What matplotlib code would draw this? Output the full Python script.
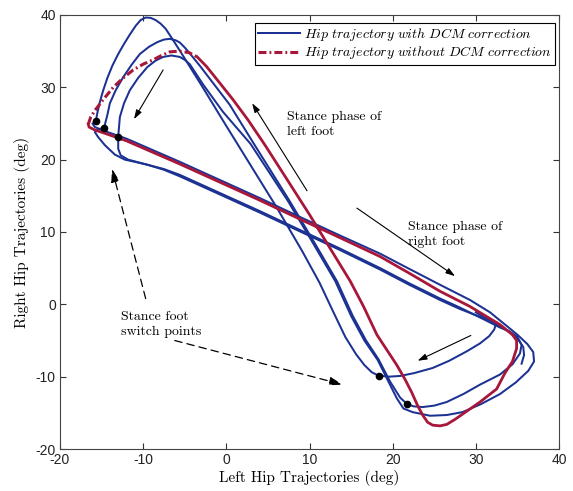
import matplotlib
matplotlib.use("Agg")
import matplotlib.pyplot as plt

plt.rcParams['mathtext.fontset'] = 'cm'
plt.rcParams['axes.unicode_minus'] = False

# ---------------- data (deg) ----------------
# Blue: hip trajectory with DCM correction (three cycles + initial tail)
blue_tall_x = [-15.7, -15.5, -15.2, -14.8, -14.3, -13.7, -13.0, -12.3, -11.6, -10.9, -10.3, -9.7,
               -9.1, -8.5, -7.9, -7.3, -6.5, -5.5, -3.0, -0.4, 3.2, 6.0, 9.1, 11.2, 12.8, 14.3,
               15.6, 16.6, 17.5, 18.3,
               19.5, 20.9, 22.6, 24.8, 26.8, 28.9, 30.5, 31.6, 32.2, 32.4, 32.0,
               30.0, 28.0, 25.7, 22.0, 18.5, 13.5, 9.0, 4.0, -0.8, -5.6, -7.5, -9.5, -11.0, -12.2,
               -13.4, -14.6, -15.4, -15.8, -15.4, -14.7]
blue_tall_y = [25.3, 26.5, 28.0, 29.6, 31.3, 33.0, 34.6, 36.0, 37.3, 38.5, 39.3, 39.65,
               39.6, 39.3, 38.8, 38.1, 36.7, 34.9, 30.3, 25.4, 18.7, 13.5, 7.4, 3.0, -0.9, -4.5,
               -6.9, -8.4, -9.4, -9.85,
               -10.0, -9.9, -9.5, -8.8, -7.8, -6.5, -5.4, -4.4, -3.5, -2.8, -2.3,
               -1.5, -0.6, 0.6, 2.7, 4.8, 7.6, 10.0, 12.7, 15.2, 17.7, 18.6, 19.3, 19.7, 20.0,
               20.7, 22.0, 23.1, 23.8, 24.2, 24.4]

blue_mid_x = [-14.7, -14.3, -14.0, -13.3, -12.4, -11.4, -10.4, -9.3, -8.3, -7.5, -6.8, -6.1,
              -5.6, -5.0, -4.4, -3.2, 0.4, 3.2, 7.6, 10.5, 13.3, 15.2, 16.8, 18.3, 19.7, 20.9, 21.7,
              22.5, 23.6, 25.0, 26.5, 28.5, 30.5, 32.9, 34.4, 35.3, 35.5, 35.0, 34.0, 32.9,
              31.0, 28.0, 25.7, 22.0, 18.5, 13.5, 9.0, 4.0, -0.8, -5.6, -7.5, -9.5, -11.8,
              -12.7, -13.0, -13.0]
blue_mid_y = [24.4, 26.2, 27.8, 29.6, 31.4, 33.1, 34.6, 35.6, 36.25, 36.6, 36.7, 36.5,
              36.2, 35.5, 34.7, 33.0, 27.6, 22.4, 14.3, 8.7, 3.2, -1.6, -5.0, -7.6, -10.7, -12.9, -13.75,
              -14.1, -14.2, -14.0, -13.5, -12.4, -11.1, -9.7, -8.3, -6.8, -5.6, -4.5, -3.7, -3.2,
              -2.1, -0.4, 0.8, 2.9, 5.0, 7.8, 10.2, 12.9, 15.4, 17.9, 18.7, 19.3, 20.0,
              20.6, 21.5, 23.2]

blue_inner_x = [-13.0, -12.8, -12.3, -11.6, -10.6, -9.5, -8.5, -7.6, -6.6, -5.6, -5.0, -4.4, -2.8,
                -0.4, 2.9, 7.4, 10.3, 13.1, 15.0, 16.6, 18.2, 19.5, 20.5, 21.3, 22.4, 24.5,
                26.5, 28.4, 30.6, 32.9, 34.8, 36.3, 37.0, 36.9, 36.2, 35.0, 33.3, 31.7, 29.3,
                25.7, 22.0, 18.5, 13.5, 9.0, 4.0, -0.8, -5.6, -9.0, -12.0, -14.5, -15.8,
                -16.1, -15.7]
blue_inner_y = [23.2, 25.9, 27.8, 29.6, 31.3, 32.8, 33.7, 34.2, 34.4, 34.2, 33.8, 33.2, 30.4,
                26.6, 22.2, 14.3, 8.7, 3.2, -1.6, -5.0, -7.7, -10.7, -13.0, -14.4, -14.9, -15.4,
                -15.3, -14.9, -13.8, -12.4, -10.8, -9.2, -7.9, -6.6, -5.5, -4.2, -2.6, -1.1, 0.6,
                2.7, 4.9, 7.0, 9.6, 12.0, 14.7, 17.2, 19.7, 21.4, 22.9, 23.9, 24.5,
                25.0, 25.3]

blue_tail_x = [35.5, 35.8, 35.7, 35.1, 34.0, 32.5, 30.0]
blue_tail_y = [-8.2, -7.0, -5.9, -4.9, -3.8, -2.8, -1.1]

# Red: hip trajectory without DCM correction
red_arc_x = [-16.6, -16.3, -15.8, -14.8, -13.6, -12.4, -11.2, -10.0, -8.8, -7.8, -6.8, -5.6,
             -4.5, -3.5]
red_arc_y = [24.9, 25.9, 26.8, 28.3, 30.0, 31.3, 32.4, 33.2, 33.8, 34.4, 34.9, 35.0,
             34.8, 34.2]
red_rest_x = [-3.5, -2.4, -1.0, 0.8, 2.6, 4.6, 7.0, 10.0, 12.5, 14.9, 16.5, 18.1, 19.3, 20.5,
              21.5, 22.3, 23.0, 23.6, 24.2, 24.8, 25.7, 26.5, 27.5, 28.5, 30.5, 32.5, 33.5,
              34.4, 34.9, 34.9, 34.4, 32.9, 29.3, 25.7, 22.0, 18.5, 13.5, 9.0, 4.0, -0.8,
              -5.6, -9.0, -12.0, -14.5, -15.8, -16.5, -16.6]
red_rest_y = [34.2, 32.9, 30.9, 28.3, 25.5, 22.1, 17.8, 12.4, 7.7, 3.2, -0.3, -4.2, -6.3, -8.4,
              -10.4, -12.2, -14.0, -15.3, -16.3, -16.7, -16.8, -16.6, -15.9, -15.1, -13.5, -11.7,
              -9.5, -7.9, -6.1, -5.0, -4.2, -2.8, -0.3, 1.8, 4.3, 6.6, 9.3, 11.7, 14.4, 16.9,
              19.4, 21.1, 22.6, 23.6, 24.1, 24.5, 24.9]

# Stance foot switch points
switch_x = [-15.7, -14.7, -13.0, 18.3, 21.7]
switch_y = [25.3, 24.4, 23.2, -9.85, -13.75]

labels = ['Hip trajectory with DCM correction', 'Hip trajectory without DCM correction']
xticks = [-20, -10, 0, 10, 20, 30, 40]
yticks = [-20, -10, 0, 10, 20, 30, 40]

# ---------------- figure ----------------
BLUE = '#1c3292'
RED = '#a8173a'
fig = plt.figure(figsize=(5.73, 4.91), dpi=100)
ax = fig.add_axes([0.1047, 0.0855, 0.8709, 0.884])

lw = 1.45
hb, = ax.plot(blue_tall_x, blue_tall_y, color=BLUE, lw=lw, zorder=3)
ax.plot(blue_mid_x, blue_mid_y, color=BLUE, lw=lw, zorder=3)
ax.plot(blue_inner_x, blue_inner_y, color=BLUE, lw=lw, zorder=3)
ax.plot(blue_tail_x, blue_tail_y, color=BLUE, lw=lw, zorder=3)
ax.plot(red_rest_x, red_rest_y, color=RED, lw=2.0, zorder=4)
hr, = ax.plot(red_arc_x, red_arc_y, color=RED, lw=2.2, zorder=4,
              linestyle=(0, (2.6, 1.0, 0.6, 1.0)))
ax.plot(switch_x, switch_y, 'o', color='black', ms=4.5, zorder=6)

ax.set_xlim(-20, 40)
ax.set_ylim(-20, 40)
ax.set_xticks(xticks)
ax.set_yticks(yticks)
ax.tick_params(direction='in', top=True, right=True, length=4, width=0.8,
               color='#333333', labelsize=10, pad=3)
for lab in ax.get_xticklabels() + ax.get_yticklabels():
    lab.set_fontfamily('Liberation Sans')
    lab.set_color('#222222')
for s in ax.spines.values():
    s.set_color('#444444')
    s.set_linewidth(0.8)

serif = 'cmr10'
ax.set_xlabel('Left Hip Trajectories (deg)', fontfamily=serif, fontsize=11, labelpad=2)
ax.set_ylabel('Right Hip Trajectories (deg)', fontfamily=serif, fontsize=11, labelpad=4)

# annotations
ax.text(7.3, 26.8, 'Stance phase of\nleft foot', fontfamily=serif, fontsize=10,
        va='top', ha='left', linespacing=1.35)
ax.text(21.8, 11.6, 'Stance phase of\nright foot', fontfamily=serif, fontsize=10,
        va='top', ha='left', linespacing=1.35)
ax.text(-12.7, -0.9, 'Stance foot\nswitch points', fontfamily=serif, fontsize=10,
        va='top', ha='left', linespacing=1.35)

solid = dict(arrowstyle='-|>,head_length=0.55,head_width=0.18', color='black', lw=0.8,
             shrinkA=0, shrinkB=0)
ax.annotate('', xy=(-11.1, 25.6), xytext=(-7.6, 32.4), arrowprops=solid)
ax.annotate('', xy=(3.1, 27.8), xytext=(9.7, 15.7), arrowprops=solid)
ax.annotate('', xy=(27.5, 3.9), xytext=(15.7, 13.3), arrowprops=solid)
ax.annotate('', xy=(23.0, -7.8), xytext=(29.4, -4.3), arrowprops=solid)
dashed = dict(arrowstyle='-|>,head_length=0.8,head_width=0.25', color='black', lw=0.9,
              linestyle=(0, (6, 4)), shrinkA=0, shrinkB=0)
ax.annotate('', xy=(-13.75, 18.75), xytext=(-9.7, 0.8), arrowprops=dashed)
ax.annotate('', xy=(14.0, -11.1), xytext=(-6.2, -5.0), arrowprops=dashed)

leg = ax.legend([hb, hr], ['$' + l.replace(' ', r'\ ') + '$' for l in labels],
                loc='upper right', bbox_to_anchor=(0.997, 0.989), fontsize=10,
                frameon=True, fancybox=False, framealpha=1, edgecolor='black',
                handlelength=3.0, handletextpad=0.25, borderpad=0.25, labelspacing=0.1,
                borderaxespad=0.2)
leg.get_frame().set_linewidth(0.8)

fig.savefig('out.png', dpi=100)
